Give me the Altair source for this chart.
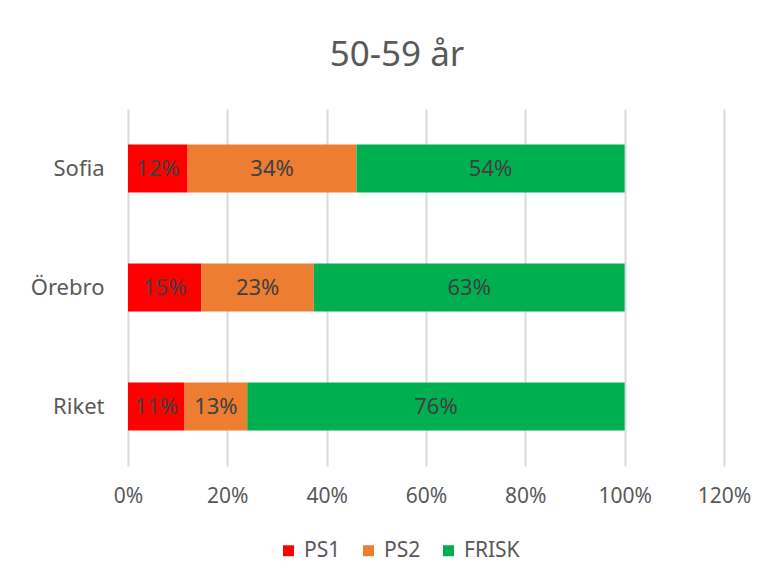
import altair as alt
import pandas as pd

categories = ["Sofia", "Örebro", "Riket"]
series = ["PS1", "PS2", "FRISK"]
ps1 = [0.12, 0.148, 0.114]
ps2 = [0.34, 0.226, 0.126]
frisk = [0.54, 0.626, 0.76]
colors = ["#ff0000", "#ed7d31", "#00b050"]
x_ticks = [0, 0.2, 0.4, 0.6, 0.8, 1.0, 1.2]

rows = []
for i, c in enumerate(categories):
    for j, (s, vals) in enumerate(zip(series, [ps1, ps2, frisk])):
        rows.append({"cat": c, "series": s, "value": vals[i], "ord": j})
df = pd.DataFrame(rows)

FONT = "Noto Sans"

base = alt.Chart(df).transform_stack(
    stack="value", groupby=["cat"], as_=["start", "end"],
    sort=[alt.SortField("ord", order="ascending")]
).transform_calculate(mid="(datum.start + datum.end) / 2")

yenc = alt.Y("cat:N", sort=categories, title=None,
             scale=alt.Scale(paddingInner=0.6, paddingOuter=0.3),
             axis=alt.Axis(labelFontSize=22, labelColor="#595959", labelFont=FONT,
                           ticks=False, domain=False, labelPadding=24, grid=False))

bars = base.mark_bar(size=48).encode(
    x=alt.X("start:Q", title=None,
            scale=alt.Scale(domain=[0, 1.2], nice=False),
            axis=alt.Axis(values=x_ticks, format=".0%", labelFontSize=21,
                          labelColor="#595959", labelFont=FONT, ticks=False,
                          domain=False, labelPadding=19, grid=True, labelFlush=False,
                          gridColor="#d9d9d9", gridWidth=2)),
    x2="end:Q",
    y=yenc,
    color=alt.Color("series:N", sort=series,
                    scale=alt.Scale(domain=series, range=colors),
                    legend=alt.Legend(title=None, orient="none", direction="horizontal",
                                      legendX=150, legendY=431, symbolType="square",
                                      symbolSize=121, labelFontSize=21, labelColor="#595959",
                                      labelFont=FONT, columnPadding=17, labelOffset=5,
                                      symbolStrokeWidth=0)),
)

labels = base.mark_text(fontSize=22, color="#404040", font=FONT).encode(
    x=alt.X("mid:Q"),
    y=alt.Y("cat:N", sort=categories),
    text=alt.Text("value:Q", format=".0%"),
)

chart = alt.layer(bars, labels).properties(
    width=596, height=357,
    title=alt.TitleParams("50-59 år", fontSize=35, font=FONT, color="#595959",
                          fontWeight="normal", anchor="middle", dx=-29, offset=8,
                          baseline="alphabetic"),
    autosize=alt.AutoSizeParams(type="none"),
    padding={"left": 120, "top": 101, "right": 36, "bottom": 109},
).configure_view(stroke=None)

chart.save("out.html", embed_options={"renderer": "svg", "actions": False})
